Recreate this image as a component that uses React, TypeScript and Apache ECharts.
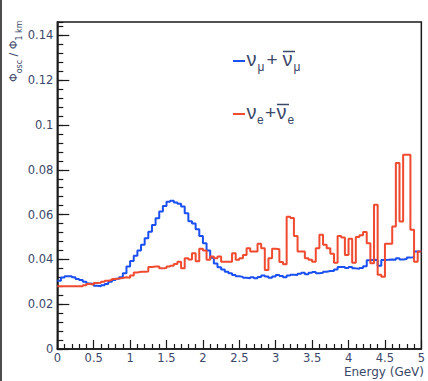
import { useEffect, useRef } from "react";
import * as echarts from "echarts";

// Flux ratio histograms, 100 bins of 0.05 GeV from 0 to 5 GeV
const BIN_WIDTH = 0.05;
const E_MIN = 0;
const E_MAX = 5;

// nu_mu + anti-nu_mu
const numuRatio = [
  0.0305, 0.0319, 0.0325, 0.0325, 0.032, 0.0312, 0.0308, 0.03, 0.0293, 0.029,
  0.0282, 0.028, 0.0285, 0.029, 0.03, 0.0308, 0.0314, 0.032, 0.0338, 0.0368,
  0.0393, 0.0416, 0.044, 0.0465, 0.0495, 0.0524, 0.0554, 0.0584, 0.0614, 0.0639,
  0.0657, 0.0662, 0.0654, 0.0648, 0.0636, 0.0606, 0.057, 0.056, 0.0535, 0.0505,
  0.0472, 0.044, 0.0407, 0.0382, 0.0365, 0.0355, 0.0345, 0.0338, 0.033, 0.0325,
  0.0322, 0.0318, 0.0316, 0.032, 0.0316, 0.0322, 0.0328, 0.0324, 0.0318, 0.0324,
  0.033, 0.0326, 0.032, 0.0328, 0.0332, 0.033, 0.0336, 0.034, 0.0334, 0.034,
  0.0344, 0.0338, 0.034, 0.0345, 0.0348, 0.0348, 0.0355, 0.0366, 0.0366, 0.0362,
  0.0366, 0.036, 0.0358, 0.0362, 0.037, 0.0396, 0.0398, 0.0397, 0.0372, 0.0397,
  0.0398, 0.04, 0.0398, 0.0405, 0.04, 0.0402, 0.0408, 0.041, 0.0435, 0.0435,
];

// nu_e + anti-nu_e
const nueRatio = [
  0.028, 0.028, 0.028, 0.028, 0.028, 0.028, 0.028, 0.0285, 0.029, 0.0288,
  0.0295, 0.0296, 0.03, 0.0305, 0.0308, 0.0312, 0.0315, 0.0317, 0.032, 0.0318,
  0.0328, 0.0342, 0.0345, 0.0345, 0.0346, 0.0366, 0.0368, 0.0368, 0.036, 0.0362,
  0.0368, 0.0372, 0.038, 0.039, 0.036, 0.0405, 0.04, 0.0428, 0.0392, 0.0448,
  0.044, 0.0398, 0.0413, 0.0405, 0.0413, 0.039, 0.039, 0.039, 0.0428, 0.0398,
  0.0405, 0.042, 0.045, 0.0435, 0.0435, 0.047, 0.045, 0.0353, 0.0405, 0.0448,
  0.0445, 0.0388, 0.0378, 0.059, 0.0585, 0.0505, 0.0435, 0.0435, 0.0405, 0.0398,
  0.039, 0.045, 0.051, 0.0465, 0.045, 0.0425, 0.0385, 0.0505, 0.0498, 0.042,
  0.0492, 0.0385, 0.05, 0.0508, 0.0522, 0.0472, 0.0383, 0.0644, 0.0331, 0.0323,
  0.047, 0.047, 0.0547, 0.083, 0.0569, 0.0867, 0.0867, 0.0532, 0.039, 0.0435,
];

const Y_MAX = 0.146;
const Y_MAJOR = 0.02;
const Y_MINOR = 0.004;
const X_MAJOR = 0.5;

const BLUE = "#1a4ff2";
const RED = "#f04a30";
const INK = "#1a1a1a";
const LABEL = "#3b4868";
const FONT = "DejaVu Sans";
const LEGEND_FONT = "Liberation Sans";

// bin low edges plus the closing edge, for a stepped outline
function histPoints(values: number[]): number[][] {
  const pts = values.map((v, i) => [Number((E_MIN + i * BIN_WIDTH).toFixed(2)), v]);
  pts.push([E_MAX, values[values.length - 1]]);
  return pts;
}

function legendRow(
  color: string,
  y: number,
  sub: string,
  opts: { subX1: number; plusX: number; nuBarX: number; subX2: number }
) {
  const textStyle = { fill: LABEL, fontFamily: LEGEND_FONT, verticalAlign: "middle", align: "left" };
  return [
    { type: "line", shape: { x1: 233, y1: y + 1, x2: 245, y2: y + 1 }, style: { stroke: color, lineWidth: 2 } },
    { type: "text", x: 246.5, y: y - 1, style: { ...textStyle, text: "ν", fontSize: 20 } },
    { type: "text", x: opts.subX1, y: y + 7, style: { ...textStyle, text: sub, fontSize: 12 } },
    { type: "text", x: opts.plusX, y: y - 1, style: { ...textStyle, text: "+", fontSize: 19 } },
    { type: "text", x: opts.nuBarX, y: y - 1, style: { ...textStyle, text: "ν", fontSize: 20 } },
    {
      type: "line",
      shape: { x1: opts.nuBarX + 0.5, y1: y - 8.5, x2: opts.nuBarX + 12.5, y2: y - 8.5 },
      style: { stroke: LABEL, lineWidth: 1.5 },
    },
    { type: "text", x: opts.subX2, y: y + 7, style: { ...textStyle, text: sub, fontSize: 12 } },
  ];
}

export default function App() {
  const ref = useRef<HTMLDivElement>(null);

  useEffect(() => {
    if (!ref.current) return;
    const chart = echarts.init(ref.current, undefined, { renderer: "svg" });

    const axisLine = { show: true, onZero: false, lineStyle: { color: INK, width: 1.5 } };

    chart.setOption({
      animation: false,
      backgroundColor: "#ffffff",
      grid: {
        left: 57.3,
        right: 3.5,
        top: 22,
        bottom: 32,
        show: true,
        borderColor: INK,
        borderWidth: 1.5,
        backgroundColor: "transparent",
      },
      xAxis: {
        type: "value",
        min: E_MIN,
        max: E_MAX,
        interval: X_MAJOR,
        axisLine,
        axisTick: { show: true, inside: true, length: 9, lineStyle: { color: INK, width: 1.2 } },
        minorTick: { show: true, splitNumber: 5, length: 5, lineStyle: { color: INK, width: 1.2 } },
        splitLine: { show: false },
        minorSplitLine: { show: false },
        axisLabel: { fontFamily: FONT, fontSize: 11.5, color: LABEL, margin: 3 },
      },
      yAxis: [
        {
          type: "value",
          min: 0,
          max: Y_MAX,
          interval: Y_MAJOR,
          position: "left",
          axisLine,
          axisTick: { show: true, inside: true, length: 12, lineStyle: { color: INK, width: 1.2 } },
          splitLine: { show: false },
          axisLabel: {
            fontFamily: FONT,
            fontSize: 11.5,
            color: LABEL,
            margin: 4,
            showMaxLabel: false,
            formatter: (v: number) => String(Number(v.toFixed(3))),
          },
        },
        {
          type: "value",
          min: 0,
          max: Y_MAX,
          interval: Y_MINOR,
          position: "left",
          axisLine: { show: false },
          axisTick: { show: true, inside: true, length: 6, lineStyle: { color: INK, width: 1.2 } },
          axisLabel: { show: false },
          splitLine: { show: false },
        },
      ],
      series: [
        {
          name: "numu",
          type: "line",
          step: "end",
          yAxisIndex: 0,
          showSymbol: false,
          data: histPoints(numuRatio),
          lineStyle: { color: BLUE, width: 2 },
          itemStyle: { color: BLUE },
        },
        {
          name: "nue",
          type: "line",
          step: "end",
          yAxisIndex: 0,
          showSymbol: false,
          data: histPoints(nueRatio),
          lineStyle: { color: RED, width: 2 },
          itemStyle: { color: RED },
        },
      ],
      graphic: [
        { type: "rect", shape: { x: 0, y: 0, width: 2, height: 381 }, style: { fill: "#4d4d4d" } },
        {
          type: "text",
          x: 23,
          y: 82,
          rotation: Math.PI / 2,
          style: {
            text: "{a|Φ}{b|osc}{a| / Φ}{b|1 km}",
            align: "left",
            verticalAlign: "bottom",
            rich: {
              a: { fontFamily: FONT, fontSize: 11, fill: LABEL, color: LABEL, padding: [0, 0, 4, 0], verticalAlign: "bottom" },
              b: { fontFamily: FONT, fontSize: 8, fill: LABEL, color: LABEL, verticalAlign: "bottom" },
            },
          },
        },
        {
          type: "text",
          x: 424,
          y: 372,
          style: { text: "Energy (GeV)", align: "right", verticalAlign: "middle", fontFamily: FONT, fontSize: 12, fill: LABEL },
        },
        ...legendRow(BLUE, 60, "μ", { subX1: 257.5, plusX: 266.5, nuBarX: 282.5, subX2: 293.5 }),
        ...legendRow(RED, 113, "e", { subX1: 257, plusX: 265, nuBarX: 276.5, subX2: 287.5 }),
      ],
    });

    return () => chart.dispose();
  }, []);

  return (
    <div
      ref={ref}
      style={{ position: "fixed", left: 0, top: 0, width: 428, height: 381, background: "#ffffff" }}
    />
  );
}
